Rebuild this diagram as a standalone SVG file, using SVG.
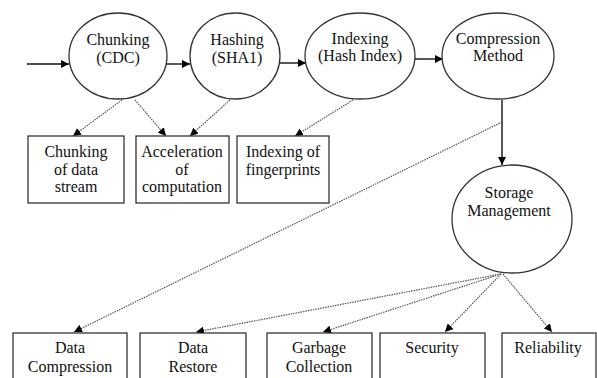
<svg xmlns="http://www.w3.org/2000/svg" width="597" height="378" viewBox="0 0 597 378">
<defs>
<marker id="ah" viewBox="0 0 10 10" refX="10" refY="5" markerWidth="8" markerHeight="8" markerUnits="userSpaceOnUse" orient="auto">
<path d="M0,0 L10,5 L0,10 z" fill="#000"/>
</marker>
</defs>
<style>
.n{fill:#fff;stroke:#333;stroke-width:1.3}
.t{font-family:"Liberation Serif","Times New Roman",serif;font-size:16px;fill:#111;text-anchor:middle}
.s{stroke:#111;stroke-width:1.4;fill:none}
.d{stroke:#555;stroke-width:1.2;stroke-dasharray:1.5 1;fill:none}
</style>
<rect width="597" height="378" fill="#fff"/>
<g id="connectors">
<line class="s" x1="27" y1="64" x2="69" y2="64" marker-end="url(#ah)"/>
<line class="s" x1="166" y1="64" x2="190" y2="64" marker-end="url(#ah)"/>
<line class="s" x1="279" y1="63" x2="306" y2="63" marker-end="url(#ah)"/>
<line class="s" x1="414" y1="59" x2="443" y2="59" marker-end="url(#ah)"/>
<line class="s" x1="502" y1="100" x2="502" y2="165" marker-end="url(#ah)"/>
<line class="d" x1="122" y1="100" x2="73" y2="136" marker-end="url(#ah)"/>
<line class="d" x1="135" y1="100" x2="166" y2="136" marker-end="url(#ah)"/>
<line class="d" x1="230" y1="100" x2="190" y2="136" marker-end="url(#ah)"/>
<line class="d" x1="353" y1="100" x2="295" y2="136" marker-end="url(#ah)"/>
<line class="d" x1="502" y1="122" x2="74" y2="332" marker-end="url(#ah)"/>
<line class="d" x1="501" y1="274" x2="196" y2="332" marker-end="url(#ah)"/>
<line class="d" x1="501" y1="274" x2="323" y2="332" marker-end="url(#ah)"/>
<line class="d" x1="501" y1="274" x2="445" y2="332" marker-end="url(#ah)"/>
<line class="d" x1="503" y1="274" x2="552" y2="332" marker-end="url(#ah)"/>
</g>
<g id="chunking">
<ellipse class="n" cx="118" cy="56" rx="49" ry="43"/>
<text class="t" x="118" y="45">Chunking</text>
<text class="t" x="118" y="63">(CDC)</text>
</g>
<g id="hashing">
<ellipse class="n" cx="235" cy="56" rx="45" ry="43"/>
<text class="t" x="237" y="45">Hashing</text>
<text class="t" x="237" y="63">(SHA1)</text>
</g>
<g id="indexing">
<ellipse class="n" cx="360" cy="56" rx="55" ry="43"/>
<text class="t" x="360" y="44">Indexing</text>
<text class="t" x="360" y="61">(Hash Index)</text>
</g>
<g id="compression">
<ellipse class="n" cx="498" cy="56" rx="56" ry="43"/>
<text class="t" x="498" y="44">Compression</text>
<text class="t" x="498" y="61">Method</text>
</g>
<g id="storage">
<ellipse class="n" cx="512" cy="219" rx="60" ry="54"/>
<text class="t" x="509" y="198">Storage</text>
<text class="t" x="509" y="216">Management</text>
</g>
<g id="box-chunking">
<rect class="n" x="28" y="136" width="96" height="67"/>
<text class="t" x="76" y="157">Chunking</text>
<text class="t" x="76" y="175">of data</text>
<text class="t" x="76" y="192">stream</text>
</g>
<g id="box-acceleration">
<rect class="n" x="136" y="136" width="93" height="67"/>
<text class="t" x="182" y="157">Acceleration</text>
<text class="t" x="182" y="175">of</text>
<text class="t" x="182" y="192">computation</text>
</g>
<g id="box-indexing">
<rect class="n" x="237" y="136" width="92" height="67"/>
<text class="t" x="283" y="157">Indexing of</text>
<text class="t" x="283" y="175">fingerprints</text>
</g>
<g id="box-datacompression">
<rect class="n" x="13" y="333" width="114" height="60"/>
<text class="t" x="70" y="353">Data</text>
<text class="t" x="70" y="372">Compression</text>
</g>
<g id="box-datarestore">
<rect class="n" x="140" y="333" width="106" height="60"/>
<text class="t" x="193" y="353">Data</text>
<text class="t" x="193" y="372">Restore</text>
</g>
<g id="box-garbage">
<rect class="n" x="267" y="333" width="105" height="60"/>
<text class="t" x="319" y="353">Garbage</text>
<text class="t" x="319" y="372">Collection</text>
</g>
<g id="box-security">
<rect class="n" x="380" y="333" width="105" height="60"/>
<text class="t" x="432" y="353">Security</text>
</g>
<g id="box-reliability">
<rect class="n" x="502" y="333" width="94" height="60"/>
<text class="t" x="548" y="353">Reliability</text>
</g>
</svg>
